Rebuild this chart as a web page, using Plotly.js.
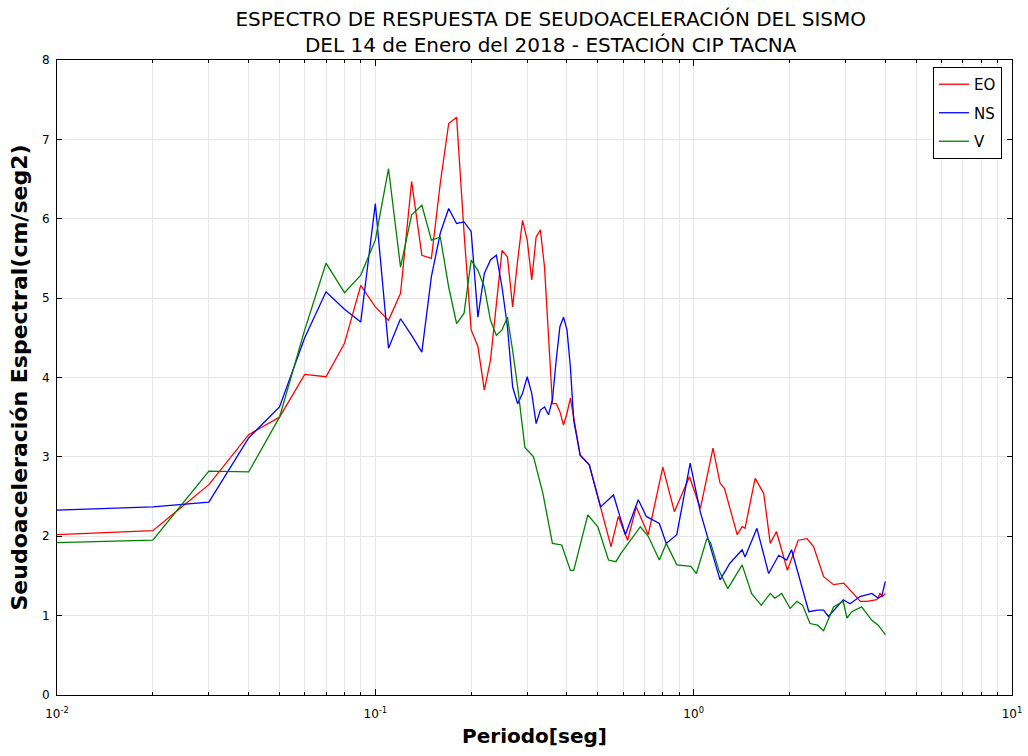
<!DOCTYPE html>
<html>
<head>
<meta charset="utf-8">
<script src="https://cdn.plot.ly/plotly-3.0.1.min.js"></script>
<style>html,body{margin:0;padding:0;background:#fff;}#chart{width:1028px;height:756px;}</style>
</head>
<body>
<div id="chart"></div>
<script>
// Periods (s) and spectral pseudo-acceleration values
const periodsEO = [0.01,0.02,0.03,0.04,0.05,0.06,0.07,0.08,0.09,0.10,0.11,0.12,0.13,0.14,0.15,0.16,0.17,0.18,0.19,0.20,0.21,0.22,0.23,0.24,0.25,0.26,0.27,0.28,0.29,0.30,0.31,0.32,0.33,0.34,0.35,0.36,0.37,0.38,0.39,0.40,0.41,0.44,0.47,0.51,0.55,0.58,0.62,0.66,0.72,0.80,0.87,0.93,0.97,1.05,1.15,1.21,1.25,1.37,1.42,1.45,1.56,1.66,1.74,1.82,1.97,2.13,2.27,2.38,2.56,2.75,2.96,3.34,3.50,3.76,3.85,3.92,4.00];
const eo = [2.02,2.07,2.65,3.28,3.50,4.04,4.01,4.43,5.16,4.89,4.72,5.06,6.47,5.54,5.50,6.45,7.20,7.28,5.82,4.60,4.39,3.84,4.22,4.97,5.60,5.52,4.89,5.48,5.98,5.73,5.23,5.77,5.86,5.39,4.56,3.67,3.67,3.57,3.40,3.55,3.74,3.02,2.90,2.37,1.87,2.25,1.95,2.37,2.02,2.87,2.31,2.58,2.75,2.35,3.11,2.67,2.60,2.02,2.12,2.10,2.73,2.54,1.91,2.06,1.57,1.95,1.97,1.87,1.49,1.39,1.41,1.18,1.18,1.20,1.28,1.24,1.28];

const periodsNS = [0.01,0.02,0.03,0.04,0.05,0.06,0.07,0.08,0.09,0.10,0.11,0.12,0.13,0.14,0.15,0.16,0.17,0.18,0.19,0.20,0.21,0.22,0.23,0.24,0.25,0.26,0.27,0.28,0.29,0.30,0.31,0.32,0.33,0.34,0.35,0.36,0.37,0.38,0.39,0.40,0.41,0.42,0.44,0.47,0.51,0.56,0.61,0.67,0.71,0.78,0.82,0.885,0.975,1.05,1.21,1.30,1.42,1.45,1.58,1.72,1.85,1.96,2.03,2.30,2.45,2.56,2.65,2.82,2.95,3.10,3.33,3.63,3.80,3.90,4.00];
const ns = [2.33,2.37,2.43,3.24,3.63,4.50,5.08,4.86,4.70,6.19,4.37,4.74,4.53,4.32,5.27,5.82,6.13,5.94,5.96,5.84,4.76,5.31,5.48,5.54,5.14,4.64,3.88,3.67,3.80,4.01,3.80,3.42,3.59,3.63,3.53,3.72,4.22,4.64,4.76,4.60,4.13,3.46,3.02,2.90,2.37,2.52,2.02,2.46,2.25,2.16,1.91,2.02,2.92,2.30,1.45,1.66,1.83,1.74,2.10,1.53,1.76,1.70,1.83,1.05,1.07,1.07,0.99,1.11,1.20,1.15,1.24,1.28,1.22,1.25,1.43];

const periodsV = [0.01,0.02,0.03,0.04,0.05,0.06,0.07,0.08,0.09,0.10,0.11,0.12,0.13,0.14,0.15,0.16,0.17,0.18,0.19,0.20,0.21,0.22,0.23,0.24,0.25,0.26,0.27,0.28,0.295,0.314,0.336,0.36,0.385,0.41,0.42,0.465,0.50,0.54,0.57,0.59,0.68,0.72,0.78,0.82,0.885,0.98,1.02,1.10,1.13,1.20,1.28,1.42,1.52,1.63,1.74,1.80,1.89,2.01,2.11,2.20,2.32,2.45,2.56,2.75,2.95,3.03,3.14,3.37,3.63,3.80,4.00];
const v = [1.92,1.95,2.82,2.81,3.50,4.60,5.44,5.07,5.29,5.73,6.63,5.39,6.05,6.17,5.73,5.77,5.14,4.68,4.81,5.48,5.35,5.14,4.72,4.53,4.60,4.76,4.34,3.88,3.12,3.00,2.54,1.91,1.89,1.57,1.57,2.27,2.12,1.70,1.68,1.78,2.12,2.00,1.70,1.91,1.64,1.62,1.53,1.97,1.92,1.57,1.34,1.64,1.28,1.13,1.28,1.22,1.28,1.09,1.18,1.13,0.90,0.88,0.81,1.11,1.18,0.97,1.05,1.11,0.94,0.88,0.76];

const seriesNames = ['EO','NS','V'];
const seriesColors = ['#ff0000','#0000ff','#008000'];

// major ticks at powers of ten, minor ticks at 2..9 x each decade
const xTickVals = [0.01, 0.1, 1, 10];
const xTickText = ['10<sup>-2</sup>', '10<sup>-1</sup>', '10<sup>0</sup>', '10<sup>1</sup>'];
const xMinorVals = [];
[0.01, 0.1, 1].forEach(base => {
  for (let m = 2; m <= 9; m++) xMinorVals.push(m * base);
});

const xs = [periodsEO, periodsNS, periodsV];
const ys = [eo, ns, v];
const traces = seriesNames.map((name, i) => ({
  x: xs[i], y: ys[i], name: name, type: 'scatter', mode: 'lines',
  legendgroup: name,
  line: {color: seriesColors[i], width: 1.3}
}));

const font = 'DejaVu Sans, Arial, sans-serif';
const layout = {
  width: 1028, height: 756,
  margin: {l: 57, r: 16, t: 60, b: 61},
  paper_bgcolor: '#fff', plot_bgcolor: '#fff',
  font: {family: font, color: '#000', size: 12},
  title: {
    text: 'ESPECTRO DE RESPUESTA DE SEUDOACELERACIÓN DEL SISMO<br>DEL 14 de Enero del 2018 - ESTACIÓN CIP TACNA',
    font: {family: font, size: 20, color: '#000'},
    x: 0.517, xanchor: 'center', xref: 'paper',
    y: 0.965, yanchor: 'bottom', yref: 'container'
  },
  xaxis: {
    type: 'log', range: [-2, 1],
    tickmode: 'array', tickvals: xTickVals, ticktext: xTickText,
    ticks: 'inside', ticklen: 6, tickcolor: '#000',
    ticklabelstandoff: 8,
    showgrid: true, gridcolor: '#e6e6e6', gridwidth: 1,
    minor: {tickmode: 'array', tickvals: xMinorVals, ticks: 'inside', ticklen: 3, tickcolor: '#000',
            showgrid: true, gridcolor: '#e6e6e6', gridwidth: 1},
    showline: true, linecolor: '#000', linewidth: 1, mirror: 'ticks',
    zeroline: false,
    tickfont: {size: 12},
    title: {text: '<b>Periodo[seg]</b>', font: {size: 20, family: font}, standoff: 8}
  },
  yaxis: {
    range: [0, 8], tickmode: 'array', tickvals: [0,1,2,3,4,5,6,7,8],
    ticktext: ['0','1','2','3','4','5','6','7','8'],
    ticks: 'inside', ticklen: 5, tickcolor: '#000',
    ticklabelstandoff: 4,
    showgrid: true, gridcolor: '#e6e6e6', gridwidth: 1,
    showline: true, linecolor: '#000', linewidth: 1, mirror: 'ticks',
    zeroline: false,
    tickfont: {size: 12},
    title: {text: '<b>Seudoaceleración Espectral(cm/seg2)</b>', font: {size: 22, family: font}, standoff: 8}
  },
  legend: {
    x: 0.9895, xanchor: 'right', y: 0.989, yanchor: 'top',
    bgcolor: '#fff', bordercolor: '#000', borderwidth: 1,
    font: {size: 15, family: font}, itemwidth: 30, tracegroupgap: 6
  },
  showlegend: true
};

Plotly.newPlot('chart', traces, layout, {displayModeBar: false, staticPlot: true});
</script>
</body>
</html>
